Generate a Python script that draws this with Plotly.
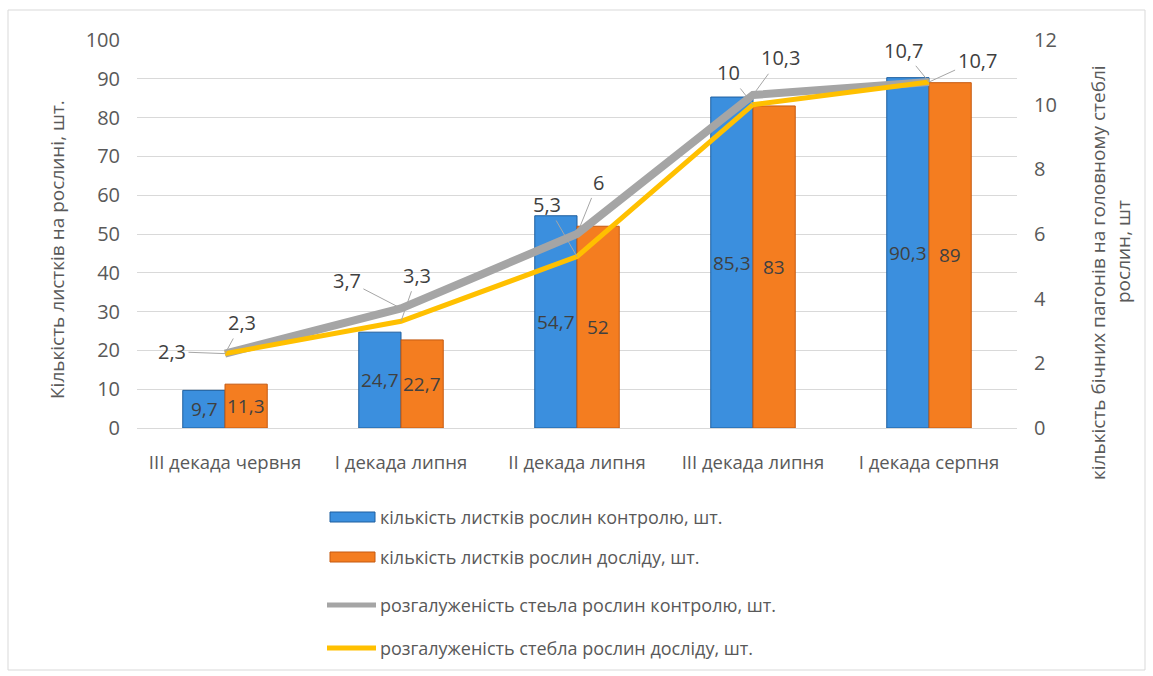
import plotly.graph_objects as go

# Decades of the observation period
categories = ["III декада червня", "I декада липня", "II декада липня",
              "III декада липня", "I декада серпня"]

# Number of leaves per plant (left axis)
leaves_control = [9.7, 24.7, 54.7, 85.3, 90.3]
leaves_trial = [11.3, 22.7, 52, 83, 89]

# Side shoots on the main stem (right axis)
branch_control = [2.3, 3.7, 6, 10.3, 10.7]
branch_trial = [2.3, 3.3, 5.3, 10, 10.7]

series_names = [
    "кількість листків рослин контролю, шт.",
    "кількість листків рослин досліду, шт.",
    "розгалуженість стеьла рослин контролю, шт.",
    "розгалуженість стебла рослин досліду, шт.",
]

W, H = 1153, 676
PL, PR, PT, PB = 137, 1017, 40, 428   # plot area in pixels
FONT = "Open Sans"
TXT = "#595959"
LBL = "#404040"
BLUE, BLUE_EDGE = "#3b8fde", "#1f5f9f"
ORANGE, ORANGE_EDGE = "#f47d20", "#c55a11"
GRAY, YELLOW = "#a5a5a5", "#ffc000"


def px(x):
    return (x - PL) / (PR - PL)


def py(y):
    return (PB - y) / (PB - PT)


def fmt(v):
    return f"{v:g}".replace(".", ",")


fig = go.Figure()
fig.add_trace(go.Bar(x=categories, y=leaves_control, name=series_names[0],
                     marker=dict(color=BLUE, line=dict(color=BLUE_EDGE, width=1))))
fig.add_trace(go.Bar(x=categories, y=leaves_trial, name=series_names[1],
                     marker=dict(color=ORANGE, line=dict(color=ORANGE_EDGE, width=1))))
fig.add_trace(go.Scatter(x=categories, y=branch_control, name=series_names[2], yaxis="y2",
                         mode="lines", line=dict(color=GRAY, width=8)))
fig.add_trace(go.Scatter(x=categories, y=branch_trial, name=series_names[3], yaxis="y2",
                         mode="lines", line=dict(color=YELLOW, width=5)))

annotations = []

# value labels inside the bars, centred vertically
for i, c in enumerate(categories):
    for vals, shift in ((leaves_control, -21), (leaves_trial, 21)):
        annotations.append(dict(x=c, y=vals[i] / 2, xref="x", yref="y", text=fmt(vals[i]),
                                showarrow=False, xshift=shift,
                                font=dict(family=FONT, size=19, color=LBL)))

# line value labels with leader lines
ctrl_offsets = [(17, -31), (-54, -28), (21, -52), (27, -37), (48, -22)]
trial_offsets = [(-53, -2), (16, -46), (-30, -52), (-25, -32), (-26, -32)]
for vals, offs in ((branch_control, ctrl_offsets), (branch_trial, trial_offsets)):
    for c, v, (ax, ay) in zip(categories, vals, offs):
        annotations.append(dict(x=c, y=v, xref="x", yref="y2", text=fmt(v),
                                showarrow=True, arrowhead=0, arrowwidth=1,
                                arrowcolor="#a6a6a6", ax=ax, ay=ay, standoff=0,
                                startstandoff=1,
                                font=dict(family=FONT, size=20, color=LBL)))

# axis titles
annotations.append(dict(x=px(57), y=py(250), xref="paper", yref="paper",
                        xanchor="center", yanchor="middle",
                        text="Кількість листків на рослині, шт.", textangle=-90,
                        showarrow=False, font=dict(family=FONT, size=19, color=TXT)))
annotations.append(dict(x=px(1098), y=py(273), xref="paper", yref="paper",
                        xanchor="center", yanchor="middle",
                        text="кількість бічних пагонів на головному стеблі", textangle=-90,
                        showarrow=False, font=dict(family=FONT, size=19, color=TXT)))
annotations.append(dict(x=px(1123), y=py(252), xref="paper", yref="paper",
                        xanchor="center", yanchor="middle",
                        text="рослин, шт", textangle=-90,
                        showarrow=False, font=dict(family=FONT, size=19, color=TXT)))

# legend drawn below the plot
legend_rows = [517, 557, 605, 648]
shapes = [
    dict(type="rect", xref="paper", yref="paper", x0=px(8), x1=px(1145),
         y0=py(670), y1=py(10), line=dict(color="#d9d9d9", width=1), layer="below"),
    dict(type="rect", xref="paper", yref="paper", x0=px(330), x1=px(375),
         y0=py(legend_rows[0] + 5), y1=py(legend_rows[0] - 5),
         fillcolor=BLUE, line=dict(color=BLUE_EDGE, width=1)),
    dict(type="rect", xref="paper", yref="paper", x0=px(330), x1=px(375),
         y0=py(legend_rows[1] + 5), y1=py(legend_rows[1] - 5),
         fillcolor=ORANGE, line=dict(color=ORANGE_EDGE, width=1)),
    dict(type="line", xref="paper", yref="paper", x0=px(327), x1=px(376),
         y0=py(legend_rows[2]), y1=py(legend_rows[2]), line=dict(color=GRAY, width=5)),
    dict(type="line", xref="paper", yref="paper", x0=px(327), x1=px(376),
         y0=py(legend_rows[3]), y1=py(legend_rows[3]), line=dict(color=YELLOW, width=5)),
]
for name, row in zip(series_names, legend_rows):
    annotations.append(dict(x=px(378), y=py(row), xref="paper", yref="paper",
                            text=name, showarrow=False, xanchor="left", yanchor="middle",
                            font=dict(family=FONT, size=18, color=TXT)))

fig.update_layout(
    width=W, height=H,
    margin=dict(l=PL, r=W - PR, t=PT, b=H - PB, pad=0),
    paper_bgcolor="white", plot_bgcolor="white",
    barmode="group", bargap=0.52, bargroupgap=0,
    showlegend=False,
    font=dict(family=FONT, size=17, color=TXT),
    xaxis=dict(showgrid=False, showline=True, linecolor="#d9d9d9",
               tickfont=dict(family=FONT, size=18.5, color=TXT),
               ticks="", ticklabelstandoff=18),
    yaxis=dict(range=[0, 100], dtick=10, showgrid=True, gridcolor="#d9d9d9",
               zeroline=False, showline=False, ticks="",
               tickfont=dict(family=FONT, size=20, color=TXT), ticklabelstandoff=16),
    yaxis2=dict(range=[0, 12], dtick=2, overlaying="y", side="right",
                showgrid=False, zeroline=False, showline=False, ticks="",
                tickfont=dict(family=FONT, size=20, color=TXT), ticklabelstandoff=16),
    annotations=annotations,
    shapes=shapes,
)

fig.write_html("out.html")
